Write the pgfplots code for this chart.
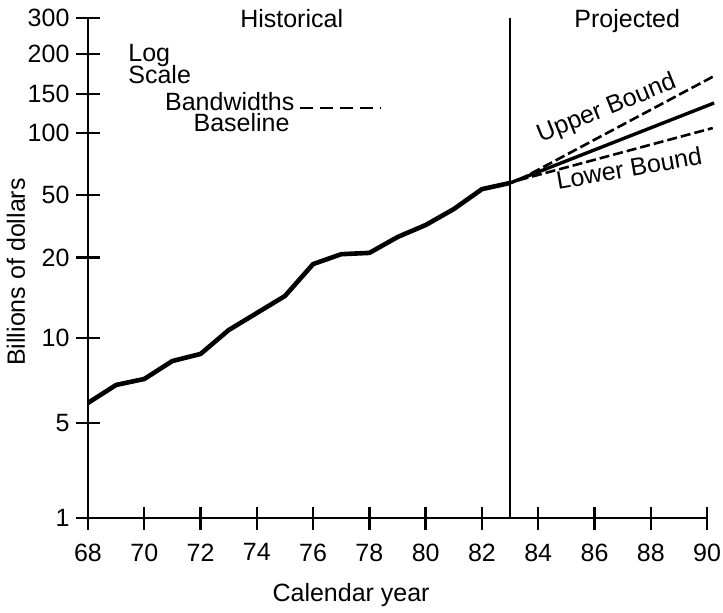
\documentclass[border=0pt]{standalone}
\usepackage{fontspec}
\setmainfont{Liberation Sans}
\usepackage{pgfplots}
\pgfplotsset{compat=1.18}
\begin{document}
\begin{tikzpicture}
\useasboundingbox (-44pt,-47pt) rectangle (317.5pt,259pt);
\begin{axis}[
  at={(0,0)}, anchor=south west,
  x=14.07pt, y=0.5pt,
  xmin=68, xmax=90, ymin=1, ymax=300,
  y coord trafo/.code={\pgfmathparse{#1<5 ? 95*ln(#1)/ln(5) : (#1<10 ? 95+85*ln(#1/5)/ln(2) : (#1<20 ? 180+80.5*ln(#1/10)/ln(2) : (#1<50 ? 260.5+62.5*ln(#1/20)/ln(2.5) : (#1<100 ? 323+62*ln(#1/50)/ln(2) : (#1<150 ? 385+39*ln(#1/100)/ln(1.5) : (#1<200 ? 424+40*ln(#1/150)/ln(4/3) : 464+36*ln(#1/200)/ln(1.5)))))))}},
  axis lines*=left,
  axis line style={line width=1.2pt},
  tick align=center,
  major tick length=11.5pt,
  tick style={line width=1.2pt, black},
  xtick={68,70,...,90},
  ytick={1,5,10,20,50,100,150,200,300},
  yticklabels={1,5,10,20,50,100,150,200,300},
  /pgf/number format/assume math mode=true,
  tick label style={font=\fontsize{12.5}{14}\selectfont},
  xticklabel style={yshift=-3.5pt},
  label style={font=\fontsize{12.5}{14}\selectfont},
  xlabel={Calendar year},
  xlabel style={at={(rel axis cs:0.425,0)}, anchor=north, yshift=-29pt},
  ylabel={Billions of dollars},
  ylabel style={at={(rel axis cs:0,0.492)}, anchor=center, yshift=36pt},
  clip=false,
]
\addplot[black, line width=2.3pt, line join=round] coordinates {
  (68,5.89) (69,6.82) (70,7.16) (71,8.29) (72,8.78) (73,10.71) (74,12.4)
  (75,14.36) (76,18.9) (77,21.0) (78,21.4) (79,27.0) (80,32.2) (81,40.7)
  (82,53.4) (83,57.2)};
\addplot[black, line width=1.7pt] coordinates {(83,57.2) (90.25,136.6)};
\addplot[black, line width=1.3pt, dash pattern=on 5pt off 2pt] coordinates {(83.3,59) (90.25,170.7)};
\addplot[black, line width=1.3pt, dash pattern=on 5pt off 2pt] coordinates {(83.3,59) (90.2,105.3)};
\addplot[black, line width=0.9pt] coordinates {(83,1) (83,300)};
\node[anchor=base, font=\fontsize{12.5}{14}\selectfont] at (rel axis cs:0.329,0.982) {Historical};
\node[anchor=base, font=\fontsize{12.5}{14}\selectfont] at (rel axis cs:0.871,0.982) {Projected};
\node[anchor=base west, inner sep=0pt, font=\fontsize{12.5}{14}\selectfont] at (rel axis cs:0.0646,0.912) {Log};
\node[anchor=base west, inner sep=0pt, font=\fontsize{12.5}{14}\selectfont] at (rel axis cs:0.0646,0.870) {Scale};
\node[anchor=base west, inner sep=0pt, font=\fontsize{12.5}{14}\selectfont] at (rel axis cs:0.124,0.816) {Bandwidths};
\node[anchor=base west, inner sep=0pt, font=\fontsize{12.5}{14}\selectfont] at (rel axis cs:0.170,0.772) {Baseline};
\draw[black, line width=1.3pt, dash pattern=on 6.5pt off 3.5pt] (rel axis cs:0.342,0.82) -- (rel axis cs:0.472,0.82);
\node[rotate=22, inner sep=0pt, font=\fontsize{12.5}{14}\selectfont] at (rel axis cs:0.838,0.818) {Upper Bound};
\node[rotate=10, inner sep=0pt, font=\fontsize{12.5}{14}\selectfont] at (rel axis cs:0.874,0.700) {Lower Bound};
\end{axis}
\end{tikzpicture}
\end{document}
